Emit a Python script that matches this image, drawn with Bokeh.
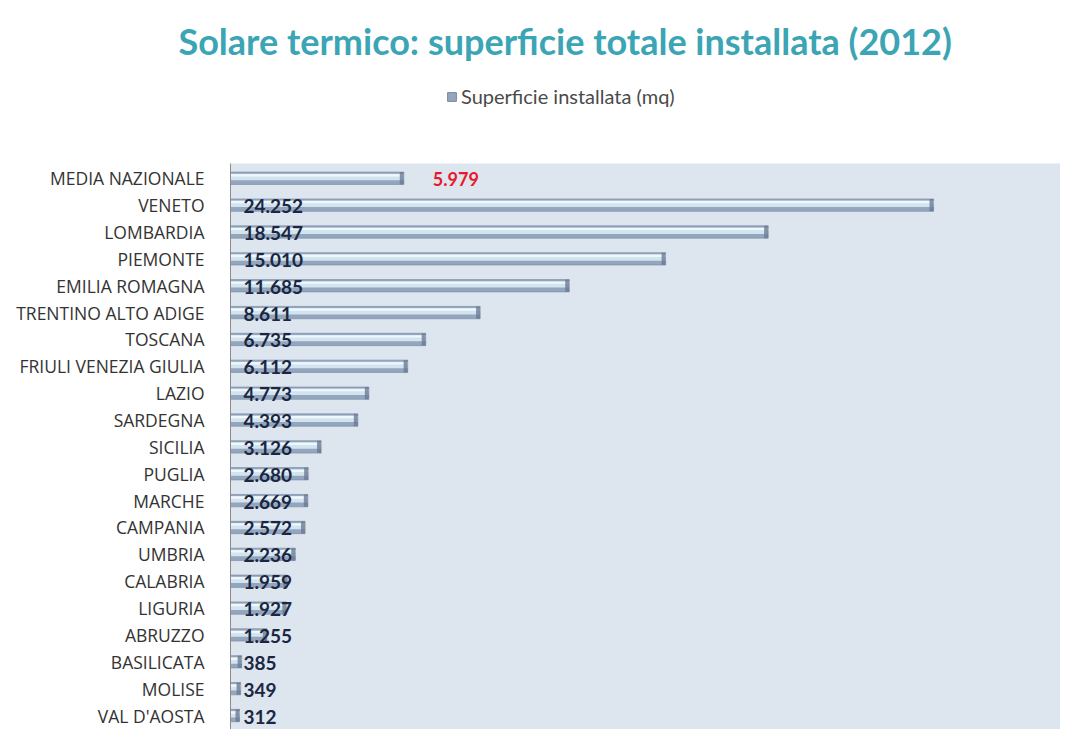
from bokeh.plotting import figure
from bokeh.layouts import column
from bokeh.models import ColumnDataSource, Range1d, FixedTicker, Legend, LegendItem
from bokeh.transform import dodge
from bokeh.core.properties import value
from bokeh.embed import file_html
from bokeh.resources import INLINE

regions = ["MEDIA NAZIONALE", "VENETO", "LOMBARDIA", "PIEMONTE", "EMILIA ROMAGNA",
           "TRENTINO ALTO ADIGE", "TOSCANA", "FRIULI VENEZIA GIULIA", "LAZIO", "SARDEGNA",
           "SICILIA", "PUGLIA", "MARCHE", "CAMPANIA", "UMBRIA", "CALABRIA", "LIGURIA",
           "ABRUZZO", "BASILICATA", "MOLISE", "VAL D'AOSTA"]
surface = [5979, 24252, 18547, 15010, 11685, 8611, 6735, 6112, 4773, 4393, 3126,
           2680, 2669, 2572, 2236, 1959, 1927, 1255, 385, 349, 312]
labels = ["5.979", "24.252", "18.547", "15.010", "11.685", "8.611", "6.735", "6.112",
          "4.773", "4.393", "3.126", "2.680", "2.669", "2.572", "2.236", "1.959", "1.927",
          "1.255", "385", "349", "312"]
series_name = "Superficie installata (mq)"
title_text = "Solare termico: superficie totale installata (2012)"

BAR_FILL = "#94a5be"
BAR_LINE = "#7888a2"

n = len(regions)
ys = [n - 1 - i for i in range(n)]
cap = [max(v - 140, 0) for v in surface]
src = ColumnDataSource(dict(y=ys, v=surface, cap=cap, lab=labels, zero=[0] * n))
main = ColumnDataSource(dict(y=ys[1:], v=surface[1:], lab=labels[1:], zero=[0] * (n - 1)))
media = ColumnDataSource(dict(y=ys[:1], v=surface[:1], lab=labels[:1]))

# ---- header figure: title + legend (frame is aligned with the chart frame below) ----
top = figure(width=1060, height=163, output_backend="svg", toolbar_location=None,
             x_range=Range1d(0, 28631), y_range=Range1d(1000, 1001),
             min_border_left=230, min_border_right=0, min_border_bottom=0, min_border_top=65)
top.axis.visible = False
top.grid.visible = False
top.outline_line_color = None
top.background_fill_color = "white"
top.border_fill_color = "white"
top.title.text = title_text
top.title.align = "left"
top.title.offset = -52
top.title.standoff = 6
top.title.text_font = "Lato"
top.title.text_font_size = "36px"
top.title.text_font_style = "bold"
top.title.text_color = "#3ba5b5"

# same series, outside this header's visible range: only its legend swatch shows
proxy = top.hbar(y="y", left="zero", right="v", height=0.4, source=src,
                 fill_color=BAR_FILL, line_color=BAR_LINE)
legend = Legend(items=[LegendItem(label=series_name, renderers=[proxy])],
                location=(216, 55), orientation="horizontal",
                label_text_font="Lato", label_text_font_size="20px", label_text_color="#4a4a4a",
                glyph_width=11, glyph_height=11, border_line_color=None,
                background_fill_alpha=0, margin=0, padding=0, label_standoff=4)
top.add_layout(legend, "center")

# ---- main bar chart ----
p = figure(width=1060, height=566, output_backend="svg", toolbar_location=None,
           x_range=Range1d(0, 28631), y_range=Range1d(-0.52, n - 0.45),
           min_border_left=230, min_border_right=0, min_border_bottom=0, min_border_top=0)
p.background_fill_color = "#dde5ef"
p.border_fill_color = "white"
p.outline_line_color = None
p.grid.visible = False
p.xaxis.visible = False

yax = p.yaxis[0]
yax.ticker = FixedTicker(ticks=ys)
yax.major_label_overrides = {y: r for y, r in zip(ys, regions)}
yax.major_label_text_font = "Open Sans"
yax.major_label_text_font_size = "17.5px"
yax.major_label_text_color = "#333333"
yax.major_tick_line_color = None
yax.minor_tick_line_color = None
yax.axis_line_color = "#8c8c8c"
yax.major_label_standoff = 20

p.hbar(y="y", left="zero", right="v", height=0.46, source=src,
       fill_color=BAR_FILL, line_color=BAR_LINE, line_width=0.6)
p.hbar(y=dodge("y", 0.05, range=p.y_range), left="zero", right="v", height=0.24, source=src,
       fill_color="#d2e4f0", line_color=None)
p.hbar(y=dodge("y", 0.11, range=p.y_range), left="zero", right="v", height=0.08, source=src,
       fill_color="#f0f8fc", line_color=None)
p.hbar(y="y", left="cap", right="v", height=0.46, source=src,
       fill_color="#6c7b93", line_color=None, fill_alpha=0.8)

p.text(x="zero", y="y", text="lab", source=main, x_offset=13, y_offset=1,
       text_font=value("Lato"), text_font_size="19px", text_font_style="bold",
       text_color="#1b2741", text_baseline="middle")
p.text(x="v", y="y", text="lab", source=media, x_offset=29, y_offset=1,
       text_font=value("Lato"), text_font_size="18px", text_font_style="bold",
       text_color="#e8192c", text_baseline="middle")

layout = column(top, p, spacing=0)
open("out.html", "w").write(file_html(layout, INLINE))
